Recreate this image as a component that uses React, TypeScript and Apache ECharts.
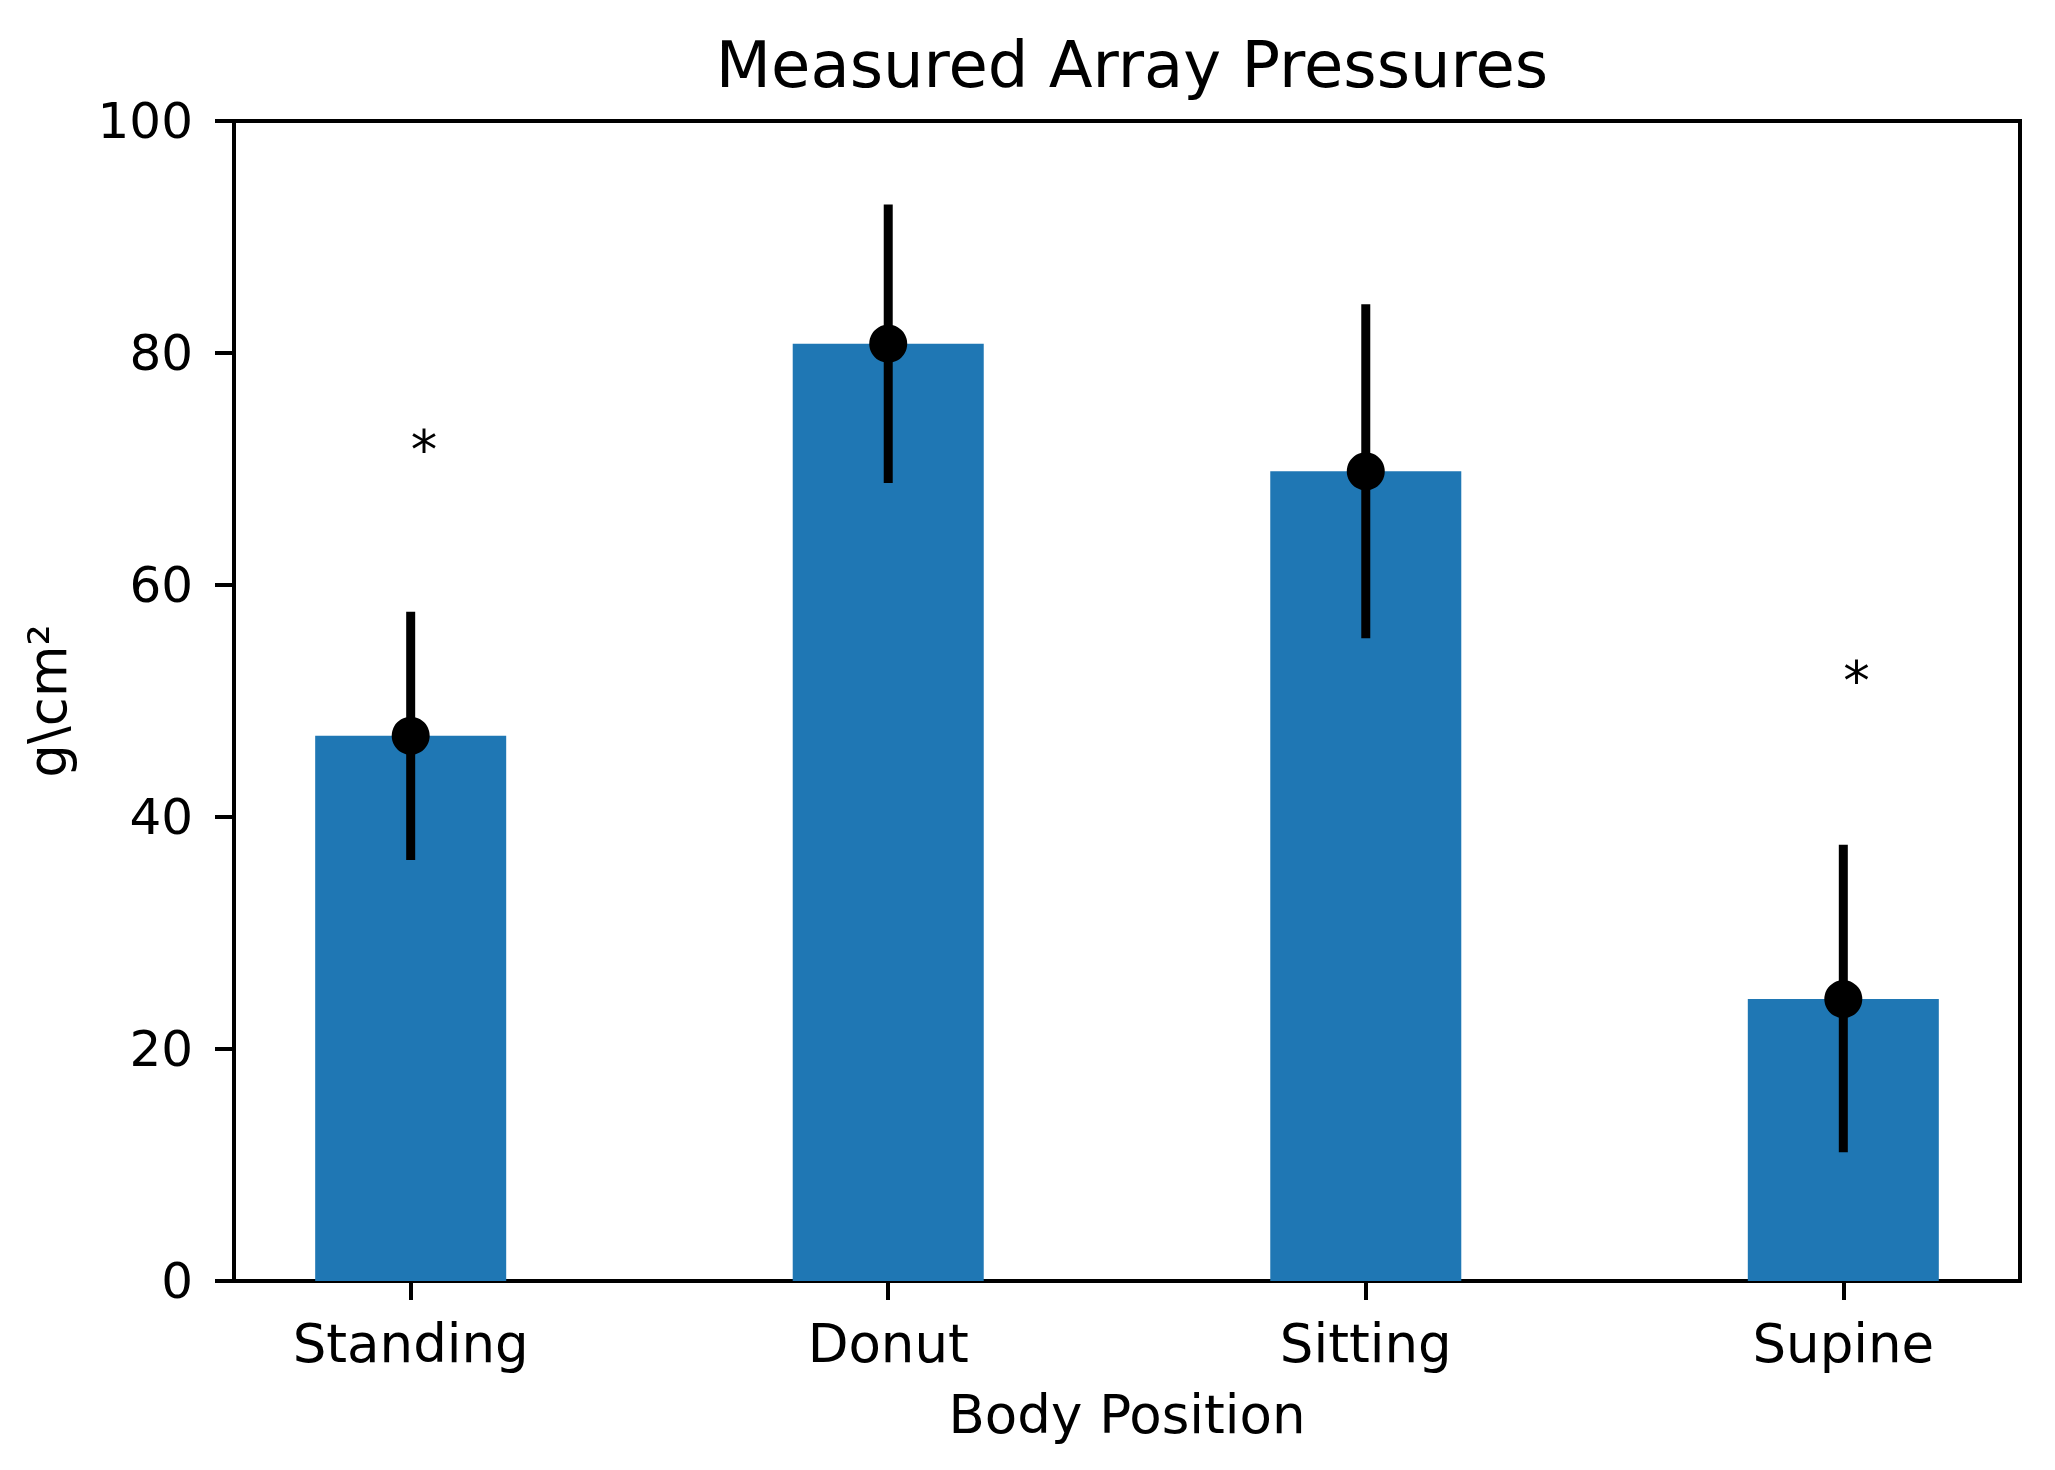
import React, { useEffect, useRef } from "react";
import * as echarts from "echarts";

const categories = ["Standing", "Donut", "Sitting", "Supine"];
const positions = [0, 1, 2, 3];
const means = [47.0, 80.8, 69.8, 24.3];
const errLow = [36.3, 68.8, 55.4, 11.1];
const errHigh = [57.7, 92.8, 84.2, 37.6];
const starX = [0, 3];
const starY = [70.1, 50.2];
const yTicks = [0, 20, 40, 60, 80, 100];

const FONT = "DejaVu Sans";

export default function App() {
  const ref = useRef<HTMLDivElement>(null);
  useEffect(() => {
    document.body.style.margin = "0";
    const chart = echarts.init(ref.current!, null, { renderer: "svg" });
    const barHalf = 0.2;
    const option: any = {
      animation: false,
      backgroundColor: "#ffffff",
      title: {
        text: "Measured Array Pressures",
        left: 1127,
        top: 28,
        textAlign: "center",
        textStyle: { fontFamily: FONT, fontSize: 64, fontWeight: "normal", color: "#000" },
      },
      grid: {
        left: 234,
        top: 121,
        right: 35,
        bottom: 189,
        show: true,
        borderColor: "#000",
        borderWidth: 4,
        backgroundColor: "transparent",
      },
      xAxis: {
        type: "value",
        min: -0.37,
        max: 3.37,
        name: "Body Position",
        nameLocation: "middle",
        nameGap: 107,
        nameTextStyle: { fontFamily: FONT, fontSize: 53, color: "#000" },
        axisLine: { show: true, onZero: false, lineStyle: { color: "#000", width: 4 } },
        axisTick: { show: true, length: 19, lineStyle: { color: "#000", width: 4 }, customValues: positions },
        axisLabel: {
          customValues: positions,
          formatter: (v: number) => categories[Math.round(v)] ?? "",
          fontFamily: FONT,
          fontSize: 53,
          color: "#000",
          margin: 36,
        },
        splitLine: { show: false },
      },
      yAxis: {
        type: "value",
        min: 0,
        max: 100,
        interval: 20,
        name: "g\\cm²",
        nameLocation: "middle",
        nameGap: 160,
        nameTextStyle: { fontFamily: FONT, fontSize: 53, color: "#000" },
        axisLine: { show: true, onZero: false, lineStyle: { color: "#000", width: 4 } },
        axisTick: { show: true, length: 19, lineStyle: { color: "#000", width: 4 } },
        axisLabel: {
          customValues: yTicks,
          fontFamily: FONT,
          fontSize: 50,
          color: "#000",
          margin: 41,
        },
        splitLine: { show: false },
      },
      series: [
        {
          type: "custom",
          name: "bars",
          data: positions.map((p, i) => [p, means[i]]),
          renderItem: (params: any, api: any) => {
            const x = api.value(0);
            const v = api.value(1);
            const tl = api.coord([x - barHalf, v]);
            const br = api.coord([x + barHalf, 0]);
            return {
              type: "rect",
              shape: { x: tl[0], y: tl[1], width: br[0] - tl[0], height: br[1] - tl[1] },
              style: { fill: "#1f77b4" },
            };
          },
          z: 1,
        },
        {
          type: "custom",
          name: "errors",
          data: positions.map((p, i) => [p, errLow[i], errHigh[i]]),
          renderItem: (params: any, api: any) => {
            const x = api.value(0);
            const lo = api.coord([x, api.value(1)]);
            const hi = api.coord([x, api.value(2)]);
            return {
              type: "line",
              shape: { x1: lo[0], y1: lo[1], x2: hi[0], y2: hi[1] },
              style: { stroke: "#000", lineWidth: 9 },
            };
          },
          z: 2,
        },
        {
          type: "scatter",
          name: "means",
          data: positions.map((p, i) => [p, means[i]]),
          symbol: "circle",
          symbolSize: 38,
          itemStyle: { color: "#000", opacity: 1 },
          z: 3,
        },
        {
          type: "custom",
          name: "stars",
          data: starX.map((x, i) => [x, starY[i]]),
          renderItem: (params: any, api: any) => {
            const pt = api.coord([api.value(0), api.value(1)]);
            const fs = 53;
            return {
              type: "text",
              x: pt[0],
              y: pt[1] - 0.346 * fs,
              style: {
                text: "*",
                fontFamily: FONT,
                fontSize: fs,
                fill: "#000",
                align: "left",
                verticalAlign: "middle",
              },
            };
          },
          z: 4,
        },
      ],
    };
    chart.setOption(option);
    return () => chart.dispose();
  }, []);
  return <div ref={ref} style={{ width: 2055, height: 1470 }} />;
}
